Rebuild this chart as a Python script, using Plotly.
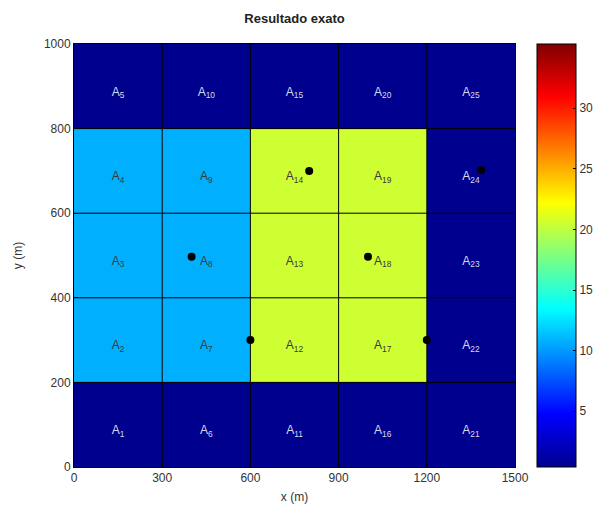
import plotly.graph_objects as go

# Grid definition
x_edges = [0, 300, 600, 900, 1200, 1500]
y_edges = [0, 200, 400, 600, 800, 1000]
x_centers = [150, 450, 750, 1050, 1350]
y_centers = [100, 300, 500, 700, 900]

# Cell values: rows = y (bottom to top), cols = x (left to right)
z_values = [
    [0.4, 0.4, 0.4, 0.4, 0.4],
    [10.8, 10.8, 20.5, 20.5, 0.4],
    [10.8, 10.8, 20.5, 20.5, 0.4],
    [10.8, 10.8, 20.5, 20.5, 0.4],
    [0.4, 0.4, 0.4, 0.4, 0.4],
]
z_min, z_max = 0.4, 35.3

# Point sources / markers
pt_x = [400, 600, 800, 1000, 1200, 1385]
pt_y = [497, 300, 700, 497, 300, 702]

cb_ticks = [5, 10, 15, 20, 25, 30]

jet = [
    [0.0, "rgb(0,0,143)"],
    [0.125, "rgb(0,0,255)"],
    [0.375, "rgb(0,255,255)"],
    [0.625, "rgb(255,255,0)"],
    [0.875, "rgb(255,0,0)"],
    [1.0, "rgb(128,0,0)"],
]

FONT = "Liberation Sans, Arial"

fig = go.Figure()
fig.add_trace(go.Heatmap(
    x=x_centers, y=y_centers, z=z_values,
    zmin=z_min, zmax=z_max, colorscale=jet,
    showscale=True, hoverinfo="skip",
    colorbar=dict(
        x=(537 - 74) / 441, xanchor="left", xpad=0, y=0, yanchor="bottom", len=1, lenmode="fraction",
        thickness=39, ypad=0,
        outlinecolor="black", outlinewidth=1,
        tickvals=cb_ticks, ticks="inside", ticklen=3, tickcolor="black",
        tickfont=dict(family=FONT, size=12, color="#333"),
    ),
))

# Grid lines between cells
line_x, line_y = [], []
for xe in x_edges[1:-1]:
    line_x += [xe, xe, None]
    line_y += [y_edges[0], y_edges[-1], None]
for ye in y_edges[1:-1]:
    line_x += [x_edges[0], x_edges[-1], None]
    line_y += [ye, ye, None]
fig.add_trace(go.Scatter(x=line_x, y=line_y, mode="lines",
                         line=dict(color="black", width=1), hoverinfo="skip", showlegend=False))

# Labels A1..A25
lab_x, lab_y, lab_t, lab_c = [], [], [], []
n = 1
for i, xc in enumerate(x_centers):
    for j, yc in enumerate(y_centers):
        lab_x.append(xc)
        lab_y.append(yc - 15)
        lab_t.append(f"A<sub>{n}</sub>")
        lab_c.append("#d8d8e8" if z_values[j][i] < 5 else "#3a3a3a")
        n += 1
fig.add_trace(go.Scatter(x=lab_x, y=lab_y, mode="text", text=lab_t,
                         textfont=dict(family=FONT, size=12, color=lab_c),
                         hoverinfo="skip", showlegend=False))

fig.add_trace(go.Scatter(x=pt_x, y=pt_y, mode="markers",
                         marker=dict(color="black", size=8), hoverinfo="skip", showlegend=False))

fig.update_layout(
    width=600, height=512,
    margin=dict(l=74, r=85, t=44, b=45, autoexpand=False),
    paper_bgcolor="white", plot_bgcolor="white",
    title=dict(text="<b>Resultado exato</b>", x=(74 + 515) / 2 / 600, xanchor="center",
               y=1 - 18 / 512, yanchor="middle",
               font=dict(family=FONT, size=13, color="#222")),
    showlegend=False,
    xaxis=dict(range=[0, 1500], tickvals=x_edges, showgrid=False, zeroline=False,
               showline=True, linecolor="black", linewidth=1, mirror=True,
               ticks="inside", ticklen=4, tickcolor="black",
               title=dict(text="x (m)", standoff=8, font=dict(family=FONT, size=12, color="#333")),
               tickfont=dict(family=FONT, size=12, color="#333")),
    yaxis=dict(range=[0, 1000], tickvals=y_edges, showgrid=False, zeroline=False,
               showline=True, linecolor="black", linewidth=1, mirror=True,
               ticks="inside", ticklen=4, tickcolor="black",
               title=dict(text="y (m)", standoff=18, font=dict(family=FONT, size=12, color="#333")),
               tickfont=dict(family=FONT, size=12, color="#333")),
)

fig.write_html("out.html")
